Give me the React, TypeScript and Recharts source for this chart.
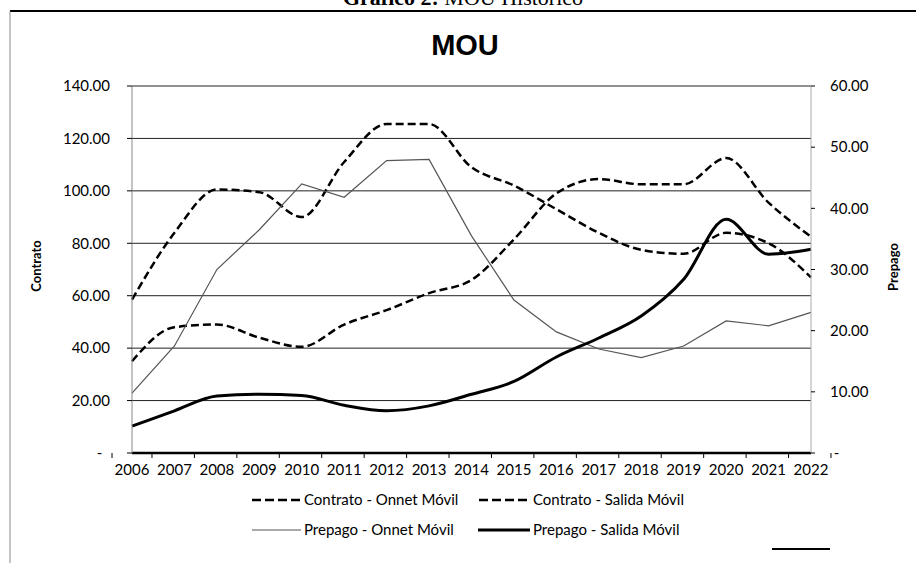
import React from 'react';
import { LineChart, Line, XAxis, YAxis, CartesianGrid } from 'recharts';

const years = ['2006', '2007', '2008', '2009', '2010', '2011', '2012', '2013', '2014', '2015', '2016', '2017', '2018', '2019', '2020', '2021', '2022'];

// Contrato (left axis)
const contratoOnnet = [58.5, 84, 100.5, 99.5, 90, 111, 125.5, 125.5, 109, 102, 93, 84, 77.5, 76, 84, 80, 67];
const contratoSalida = [35, 48, 49, 44, 40.5, 49, 54.5, 61, 66, 81.5, 99, 104.5, 102.5, 102.5, 112.5, 95.5, 82.5];

// Prepago (right axis)
const prepagoOnnet = [9.8, 17.5, 30, 36.5, 44, 41.8, 47.8, 48, 35.5, 25, 19.8, 17, 15.6, 17.5, 21.6, 20.8, 23];
const prepagoSalida = [4.4, 6.9, 9.3, 9.6, 9.4, 7.8, 6.9, 7.7, 9.6, 11.7, 15.7, 18.8, 22.4, 28.4, 38.2, 32.5, 33.3];

const leftTicks = [0, 20, 40, 60, 80, 100, 120, 140];
const rightTicks = [0, 10, 20, 30, 40, 50, 60];

const data = years.map((year, i) => ({
  year,
  contratoOnnet: contratoOnnet[i],
  contratoSalida: contratoSalida[i],
  prepagoOnnet: prepagoOnnet[i],
  prepagoSalida: prepagoSalida[i],
}));

const W = 916;
const H = 563;
const PLOT_LEFT = 132;
const PLOT_RIGHT = 811;
const PLOT_TOP = 86;
const PLOT_BOTTOM = 453;
const XAXIS_H = 30;
const BAND = (PLOT_RIGHT - PLOT_LEFT) / years.length;
const FONT = 'Lato, "Noto Sans", sans-serif';

const fmtLeft = (v: number) => (v === 0 ? '-\u00a0\u00a0' : v.toFixed(2));
const fmtRight = (v: number) => (v === 0 ? '\u00a0-' : v.toFixed(2));

const YearTick = (props: any) => {
  const { x, y, payload, index } = props;
  return (
    <g>
      {index === 0 && <line x1={x - BAND / 2} x2={x - BAND / 2} y1={y} y2={y + 5} stroke="#000" />}
      <line x1={x + BAND / 2} x2={x + BAND / 2} y1={y} y2={y + 5} stroke="#000" />
      <text x={x} y={y + 22} textAnchor="middle" fontSize={15} fontFamily={FONT} fill="#000">
        {payload.value}
      </text>
    </g>
  );
};

const LegendSample = ({ x, y, w, kind }: { x: number; y: number; w: number; kind: string }) => {
  if (kind === 'dash') {
    return <line x1={x} x2={x + w} y1={y} y2={y} stroke="#000" strokeWidth={2.5} strokeDasharray="9 4" />;
  }
  if (kind === 'thin') {
    return <line x1={x} x2={x + w} y1={y} y2={y} stroke="#555" strokeWidth={1.2} />;
  }
  return <line x1={x} x2={x + w} y1={y} y2={y} stroke="#000" strokeWidth={3} />;
};

const legendRows = [
  [
    { label: 'Contrato - Onnet Móvil', kind: 'dash', x: 252, tx: 304 },
    { label: 'Contrato - Salida Móvil', kind: 'dash', x: 479, tx: 533 },
  ],
  [
    { label: 'Prepago - Onnet Móvil', kind: 'thin', x: 252, tx: 304 },
    { label: 'Prepago - Salida Móvil', kind: 'thick', x: 478, tx: 533 },
  ],
];

export default function App() {
  return (
    <div style={{ position: 'absolute', left: 0, top: 0, width: W, height: H, background: '#fff' }}>
      <LineChart
        width={W}
        height={H}
        data={data}
        margin={{ top: PLOT_TOP, right: 0, left: 0, bottom: H - PLOT_BOTTOM - XAXIS_H }}
      >
        <CartesianGrid yAxisId="left" vertical={false} stroke="#222" strokeWidth={1} />
        <XAxis
          dataKey="year"
          height={XAXIS_H}
          interval={0}
          tickLine={false}
          tickSize={0}
          tickMargin={0}
          axisLine={{ stroke: '#000', strokeWidth: 2.5 }}
          tick={(p: any) => <YearTick {...p} />}
        />
        <YAxis
          yAxisId="left"
          orientation="left"
          width={PLOT_LEFT}
          domain={[0, 140]}
          ticks={leftTicks}
          interval={0}
          tickFormatter={fmtLeft}
          tickSize={5}
          tickMargin={17}
          tickLine={{ stroke: '#000' }}
          axisLine={{ stroke: '#888' }}
          tick={{ fontSize: 15, fill: '#000', fontFamily: FONT }}
        />
        <YAxis
          yAxisId="right"
          orientation="right"
          width={W - PLOT_RIGHT}
          domain={[0, 60]}
          ticks={rightTicks}
          interval={0}
          tickFormatter={fmtRight}
          tickSize={4}
          tickMargin={15}
          tickLine={{ stroke: '#000' }}
          axisLine={{ stroke: '#aaa' }}
          tick={{ fontSize: 15, fill: '#000', fontFamily: FONT }}
        />
        <Line
          yAxisId="left"
          type="monotone"
          dataKey="contratoOnnet"
          name="Contrato - Onnet Móvil"
          stroke="#000"
          strokeWidth={2.5}
          strokeDasharray="8 4"
          dot={false}
          isAnimationActive={false}
        />
        <Line
          yAxisId="left"
          type="monotone"
          dataKey="contratoSalida"
          name="Contrato - Salida Móvil"
          stroke="#000"
          strokeWidth={2.5}
          strokeDasharray="8 4"
          dot={false}
          isAnimationActive={false}
        />
        <Line
          yAxisId="right"
          type="linear"
          dataKey="prepagoOnnet"
          name="Prepago - Onnet Móvil"
          stroke="#555"
          strokeWidth={1.2}
          dot={false}
          isAnimationActive={false}
        />
        <Line
          yAxisId="right"
          type="monotone"
          dataKey="prepagoSalida"
          name="Prepago - Salida Móvil"
          stroke="#000"
          strokeWidth={3}
          dot={false}
          isAnimationActive={false}
        />
      </LineChart>

      <svg
        width={W}
        height={H}
        style={{ position: 'absolute', left: 0, top: 0, pointerEvents: 'none' }}
      >
        {/* page caption, cut off at the top of the scan */}
        <text x={463} y={5} textAnchor="middle" fontSize={22} fontFamily='"Liberation Serif", serif' fill="#000">
          <tspan fontWeight="bold">Gráfico 2:</tspan> MOU Histórico
        </text>
        <line x1={10} x2={W} y1={11} y2={11} stroke="#000" strokeWidth={2} />
        <line x1={10} x2={10} y1={11} y2={H} stroke="#888" strokeWidth={1} />
        <line x1={772} x2={830} y1={549} y2={549} stroke="#000" strokeWidth={2} />

        <text x={465} y={55} textAnchor="middle" fontSize={29} fontWeight="bold" fontFamily='"Liberation Sans", Arial, sans-serif' fill="#000">
          MOU
        </text>

        <text x={36} y={266} transform="rotate(-90 36 266)" textAnchor="middle" dominantBaseline="central" fontSize={13} fontWeight="bold" fontFamily={FONT} fill="#000">
          Contrato
        </text>
        <text x={893} y={267} transform="rotate(-90 893 267)" textAnchor="middle" dominantBaseline="central" fontSize={13} fontWeight="bold" fontFamily={FONT} fill="#000">
          Prepago
        </text>

        {legendRows.map((row, r) =>
          row.map((item) => {
            const cy = 500 + r * 30;
            return (
              <g key={item.label}>
                <LegendSample x={item.x} y={cy} w={item.tx - item.x - 3} kind={item.kind} />
                <text x={item.tx} y={cy + 5} fontSize={15} fontFamily={FONT} fill="#000">
                  {item.label}
                </text>
              </g>
            );
          })
        )}
      </svg>
    </div>
  );
}
